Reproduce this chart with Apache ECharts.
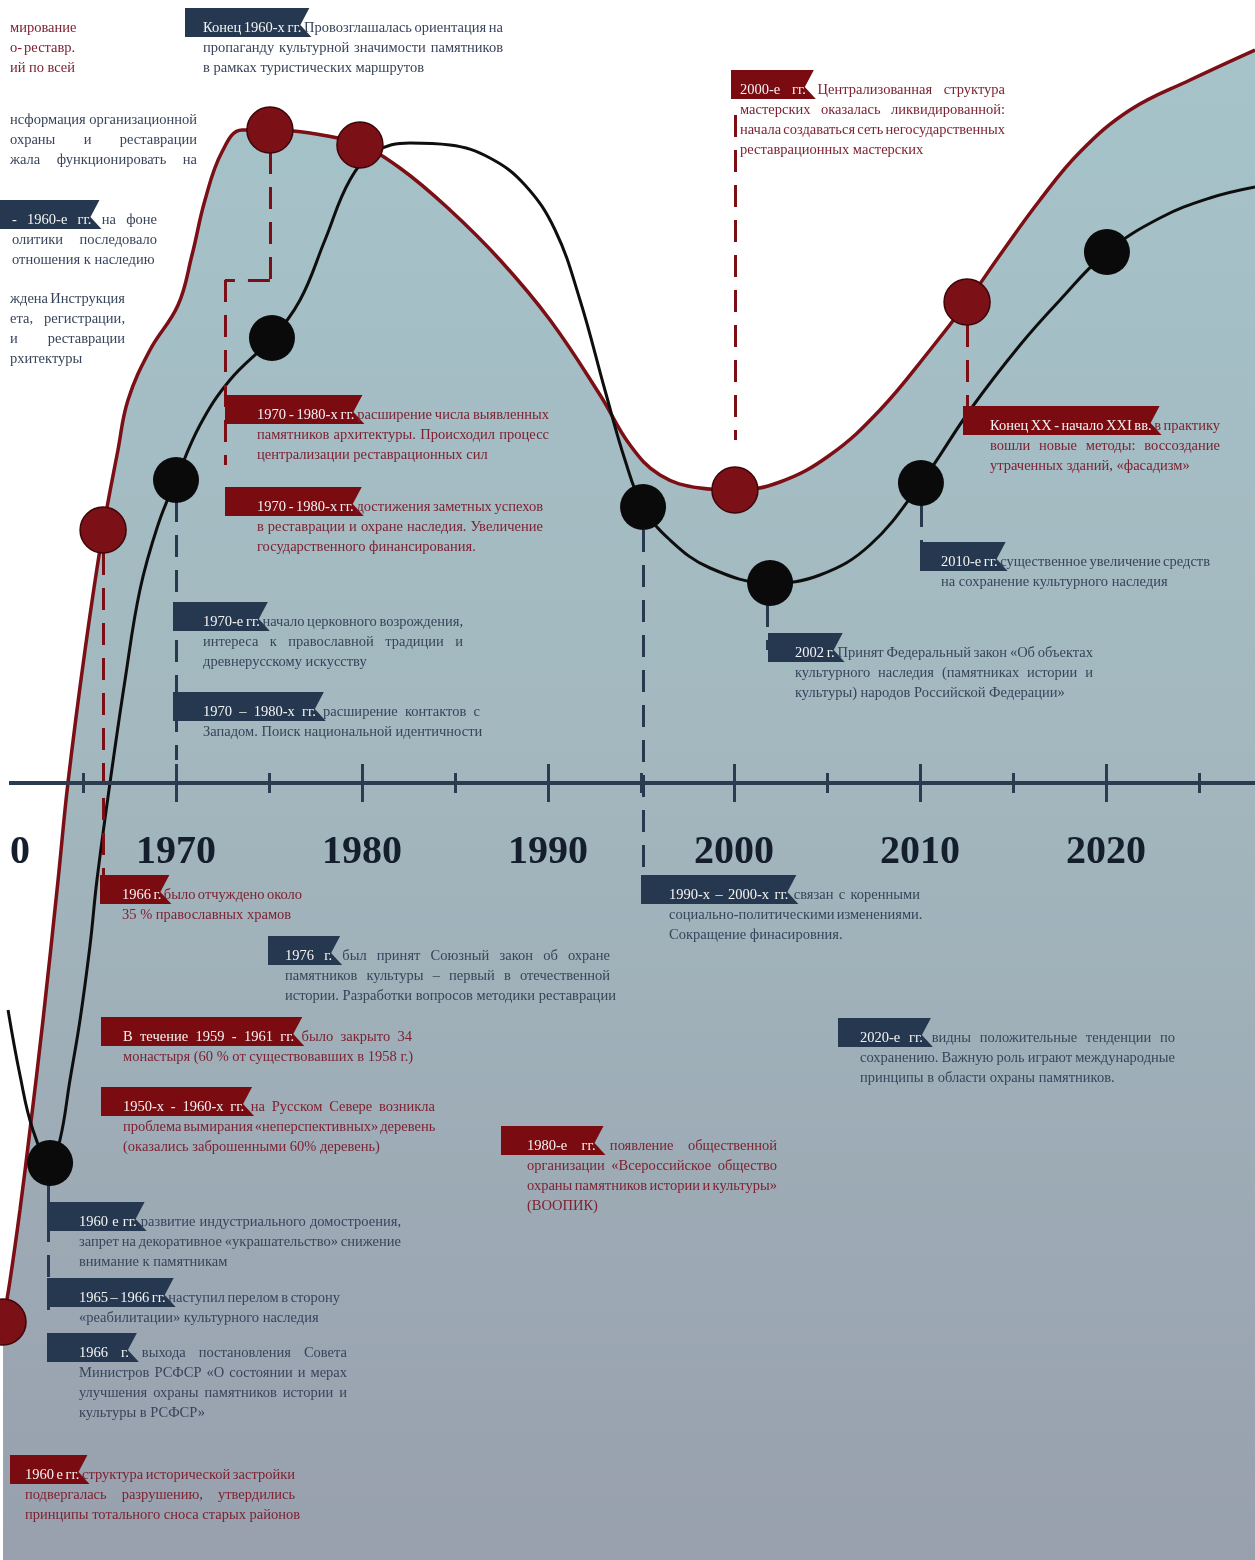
<!DOCTYPE html>
<html>
<head>
<meta charset="utf-8">
<script src="https://cdn.jsdelivr.net/npm/echarts@6/dist/echarts.min.js"></script>
<style>
html, body { margin: 0; padding: 0; background: #fff; }
#chart { width: 1255px; height: 1560px; }
</style>
</head>
<body>
<div id="chart"></div>
<script>
// кривые: год и уровень (0 = линия времени)
const redYears = [1960.70, 1961.08, 1961.61, 1962.15, 1962.85, 1963.66, 1964.19, 1965.11, 1966.08, 1966.88,
  1967.42, 1968.60, 1970.11, 1970.86, 1971.56, 1972.47, 1973.55, 1975.05, 1977.20, 1979.89,
  1982.04, 1984.73, 1987.42, 1990.11, 1992.80, 1994.41, 1996.02, 1998.17, 2000.05, 2002.47,
  2005.16, 2007.85, 2010.54, 2012.53, 2014.30, 2016.45, 2018.60, 2021.29, 2024.52, 2028.01]
const redLevels = [-53.9, -49.7, -42.7, -34.7, -23.7, -9.7, 0, 13.3, 25.3, 33.3,
  38.3, 43.3, 47.8, 52.8, 58.3, 63.1, 65.3, 65.3, 65.0, 63.8,
  61.5, 57.3, 52.3, 46.3, 38.8, 33.8, 30.8, 29.5, 29.3, 30.1,
  32.8, 37.3, 43.3, 48.1, 52.8, 58.3, 63.1, 67.3, 70.3, 73.3]

const blackYears = [1960.97, 1961.61, 1962.31, 1963.23, 1963.76, 1964.30, 1964.84, 1965.38, 1965.75, 1966.45,
  1967.26, 1968.06, 1969.03, 1970.00, 1971.29, 1972.90, 1975.16, 1976.67, 1978.01, 1979.35,
  1980.70, 1982.58, 1984.73, 1986.88, 1988.76, 1990.38, 1991.72, 1993.06, 1994.14, 1995.11,
  1996.56, 1998.71, 2001.94, 2004.62, 2007.31, 2010.05, 2012.69, 2015.38, 2017.53, 2020.05,
  2022.90, 2025.59, 2028.01]
const blackLevels = [-22.7, -29.2, -34.7, -38.0, -35.7, -29.7, -23.7, -16.2, -9.7, 0,
  10.3, 19.3, 25.8, 30.3, 35.8, 40.3, 44.5, 48.3, 54.3, 60.3,
  63.1, 64.0, 63.8, 62.5, 59.8, 55.3, 48.3, 39.3, 32.3, 27.6,
  24.3, 21.5, 20.0, 20.8, 23.8, 30.0, 37.3, 43.8, 48.3, 53.1,
  56.5, 58.5, 59.6]

// точки-события
const redDotYears = [1960.70, 1966.08, 1975.05, 1979.89, 2000.05, 2012.53]
const redDotLevels = [-53.9, 25.3, 65.3, 63.8, 29.3, 48.1]
const blackDotYears = [1963.23, 1970.00, 1975.16, 1995.11, 2001.94, 2010.05, 2020.05]
const blackDotLevels = [-38.0, 30.3, 44.5, 27.6, 20.0, 30.0, 53.1]

// пунктирные выноски: [год1, уровень1, год2, уровень2]
const redLinks = [
  [1966.08, 23.0, 1966.08, -10.7],
  [1975.05, 63.1, 1975.05, 50.3],
  [1975.05, 50.3, 1972.63, 50.3],
  [1972.63, 50.3, 1972.63, 31.8],
  [2000.05, 66.8, 2000.05, 34.3],
  [2012.53, 45.8, 2012.53, 37.3]
]
const blackLinks = [
  [1970.00, 28.3, 1970.00, 2.3],
  [1995.11, 25.3, 1995.11, -9.7],
  [1963.12, -40.2, 1963.12, -52.7],
  [2010.05, 27.8, 2010.05, 22.3],
  [2001.80, 17.8, 2001.80, 13.3]
]

// подписи событий
const noteLabels = ['', '', '- 1960-е гг.', '', 'Конец 1960-х гг.', '2000-е гг.',
  '1970 - 1980-х гг.', '1970 - 1980-х гг.', 'Конец XX - начало XXI вв.', '2010-е гг.',
  '1970-е гг.', '2002 г.', '1970 – 1980-х гг.', '1966 г.', '1990-х – 2000-х гг.', '1976 г.',
  'В течение 1959 - 1961 гг.', '2020-е гг.', '1950-х - 1960-х гг.', '1980-е гг.',
  '1960 е гг.', '1965 – 1966 гг.', '1966 г.', '1960 е гг.']
const noteTexts = [
  ['мирование', 'о- реставр.', 'ий по всей'],
  ['нсформация организационной', 'охраны и реставрации', 'жала функционировать на'],
  ['на фоне', 'олитики последовало', 'отношения к наследию'],
  ['ждена Инструкция', 'ета, регистрации,', 'и реставрации', 'рхитектуры'],
  ['Провозглашалась ориентация на', 'пропаганду культурной значимости памятников', 'в рамках туристических маршрутов'],
  ['Централизованная структура', 'мастерских оказалась ликвидированной:', 'начала создаваться сеть негосударственных', 'реставрационных мастерских'],
  ['расширение числа выявленных', 'памятников архитектуры. Происходил процесс', 'централизации реставрационных сил'],
  ['достижения заметных успехов', 'в реставрации и охране наследия. Увеличение', 'государственного финансирования.'],
  ['в практику', 'вошли новые методы: воссоздание', 'утраченных зданий, «фасадизм»'],
  ['существенное увеличение средств', 'на сохранение культурного наследия'],
  ['начало церковного возрождения,', 'интереса к православной традиции и', 'древнерусскому искусству'],
  ['Принят Федеральный закон «Об объектах', 'культурного наследия (памятниках истории и', 'культуры) народов Российской Федерации»'],
  ['расширение контактов с', 'Западом. Поиск национальной идентичности'],
  ['было отчуждено около', '35 % православных храмов'],
  ['связан с коренными', 'социально-политическими изменениями.', 'Сокращение финасировния.'],
  ['был принят Союзный закон об охране', 'памятников культуры – первый в отечественной', 'истории. Разработки вопросов методики реставрации'],
  ['было закрыто 34', 'монастыря (60 % от существовавших в 1958 г.)'],
  ['видны положительные тенденции по', 'сохранению. Важную роль играют международные', 'принципы в области охраны памятников.'],
  ['на Русском Севере возникла', 'проблема вымирания «неперспективных» деревень', '(оказались заброшенными 60% деревень)'],
  ['появление общественной', 'организации «Всероссийское общество', 'охраны памятников истории и культуры»', '(ВООПИК)'],
  ['развитие индустриального домостроения,', 'запрет на декоративное «украшательство» снижение', 'внимание к памятникам'],
  ['наступил перелом в сторону', '«реабилитации» культурного наследия'],
  ['выхода постановления Совета', 'Министров РСФСР «О состоянии и мерах', 'улучшения охраны памятников истории и', 'культуры в РСФСР»'],
  ['структура исторической застройки', 'подвергалась разрушению, утвердились', 'принципы тотального сноса старых районов']
]
const noteSides = ['red', 'navy', 'navy', 'navy', 'navy', 'red', 'red', 'red', 'red', 'navy',
  'navy', 'navy', 'navy', 'red', 'navy', 'navy', 'red', 'navy', 'red', 'red',
  'navy', 'navy', 'navy', 'red']

// расположение блоков: [флажок x, текст x, первая строка y, правый край, выравнивать последнюю]
const noteBoxes = [
  [null, 10, 28, 75, true], [null, 10, 120, 197, true], [-10, 12, 220, 157, false], [null, 10, 299, 125, false],
  [185, 203, 28, 503, false], [731, 740, 90, 1005, false], [225, 257, 415, 549, false], [225, 257, 507, 543, false],
  [963, 990, 426, 1220, false], [920, 941, 562, 1210, false], [173, 203, 622, 463, false], [768, 795, 653, 1093, false],
  [173, 203, 712, 480, false], [100, 122, 895, 302, false], [641, 669, 895, 920, false], [268, 285, 956, 610, false],
  [101, 123, 1037, 412, false], [838, 860, 1038, 1175, false], [101, 123, 1107, 435, false], [501, 527, 1146, 777, false],
  [47, 79, 1222, 401, false], [47, 79, 1298, 340, false], [47, 79, 1353, 347, false], [10, 25, 1475, 295, false]
]

const FONT = 'Liberation Serif'
const FS = 14.5
const LH = 20
const RED = '#7b0f15'
const NAVY = '#27384f'
const AXIS = '#2b3c51'
const TEXT_COLORS = { red: '#7e2131', navy: '#37445a' }
const FLAG_COLORS = { red: '#7a0b11', navy: '#26384f' }

const ctx = document.createElement('canvas').getContext('2d')
ctx.font = FS + 'px "' + FONT + '"'
const measure = s => ctx.measureText(s).width
const spaceW = measure(' ')

const zip = (xs, ys) => xs.map((x, i) => [x, ys[i]])

// блок текста с флажком и выравниванием по ширине
const buildNote = (i) => {
  const [flagX, textX, y, right, justifyLast] = noteBoxes[i]
  const lines = noteTexts[i]
  const labelWords = noteLabels[i] ? noteLabels[i].split(' ') : []
  const side = noteSides[i]
  const els = []
  let labelEnd = textX
  lines.forEach((line, li) => {
    let words = line.split(' ')
    let nLabel = 0
    if (li === 0 && labelWords.length) {
      words = labelWords.concat(words)
      nLabel = labelWords.length
    }
    const widths = words.map(measure)
    const total = widths.reduce((a, b) => a + b, 0)
    const isLast = li === lines.length - 1 && !justifyLast
    let gap = spaceW
    if (!isLast && words.length > 1) gap = Math.max(2, (right - textX - total) / (words.length - 1))
    let x = textX
    const cy = y + li * LH
    words.forEach((word, wi) => {
      els.push({
        type: 'text', x: x, y: cy, z: 110, silent: true,
        style: {
          text: word, fill: wi < nLabel ? '#f4f4f4' : TEXT_COLORS[side],
          fontSize: FS, fontFamily: FONT, align: 'left', verticalAlign: 'middle'
        }
      })
      if (wi === nLabel - 1) labelEnd = x + widths[wi]
      x += widths[wi] + gap
    })
  })
  if (labelWords.length) {
    const top = y - 20, bot = y + 9, R = labelEnd + 8
    els.unshift({
      type: 'polygon', z: 105, silent: true,
      shape: { points: [[flagX, top], [R, top], [R - 9, top + 17], [R + 2, bot], [flagX, bot]] },
      style: { fill: FLAG_COLORS[side] }
    })
  }
  return els
}

const graphics = []
noteTexts.forEach((_, i) => graphics.push(...buildNote(i)))
// белая кромка исходного листа слева у оси
graphics.push({ type: 'rect', z: 120, silent: true, shape: { x: 0, y: 770, width: 9, height: 110 }, style: { fill: '#ffffff' } })

const dashLine = (links, color) => ({
  silent: true,
  symbol: ['none', 'none'],
  label: { show: false },
  lineStyle: { color: color, width: 3, type: [22, 13] },
  data: links.map(l => [{ coord: [l[0], l[1]] }, { coord: [l[2], l[3]] }])
})

const chart = echarts.init(document.getElementById('chart'), null, { renderer: 'canvas' })

const tickStyle = { color: AXIS, width: 3 }
const AXIS_Y = 783 // линия времени, px от верха

chart.setOption({
  animation: false,
  backgroundColor: '#ffffff',
  grid: [
    { left: -10, right: -37, top: 0, bottom: 0, outerBoundsMode: 'none', containLabel: false },
    { left: -10, right: -37, top: 0, bottom: 1560 - AXIS_Y, outerBoundsMode: 'none', containLabel: false },
    { left: -10, right: -37, top: AXIS_Y, bottom: 0, outerBoundsMode: 'none', containLabel: false }
  ],
  xAxis: [
    { type: 'value', gridIndex: 0, min: 1960, max: 2030, show: false },
    {
      type: 'value', gridIndex: 1, min: 1960, max: 2030, interval: 10, position: 'bottom', z: 10,
      axisLine: { show: true, onZero: false, lineStyle: { color: AXIS, width: 4 } },
      axisTick: { show: true, inside: false, length: 19, lineStyle: tickStyle },
      minorTick: { show: true, splitNumber: 2, length: 10, lineStyle: tickStyle },
      splitLine: { show: false },
      axisLabel: {
        margin: 50, fontSize: 40, fontWeight: 'bold', fontFamily: FONT, color: '#151e2c',
        showMaxLabel: false,
        formatter: v => String(v)
      }
    },
    {
      type: 'value', gridIndex: 2, min: 1960, max: 2030, interval: 10, position: 'top', z: 10,
      axisLine: { show: false, onZero: false },
      axisTick: { show: true, inside: false, length: 19, lineStyle: tickStyle },
      minorTick: { show: true, splitNumber: 2, length: 10, lineStyle: tickStyle },
      splitLine: { show: false },
      axisLabel: { show: false }
    }
  ],
  yAxis: [
    { type: 'value', gridIndex: 0, min: -77.7, max: 78.3, show: false },
    { type: 'value', gridIndex: 1, show: false },
    { type: 'value', gridIndex: 2, show: false }
  ],
  series: [
    {
      type: 'line', z: 2, smooth: 0.4, showSymbol: false, silent: true,
      data: zip(redYears, redLevels),
      lineStyle: { color: RED, width: 3.5 },
      areaStyle: {
        origin: 'start', opacity: 1,
        color: new echarts.graphic.LinearGradient(0, 0, 0, 1, [
          { offset: 0, color: '#a6c3ca' },
          { offset: 0.45, color: '#a3b8bf' },
          { offset: 1, color: '#98a0ad' }
        ])
      },
      markLine: dashLine(redLinks, RED)
    },
    {
      type: 'line', z: 3, smooth: 0.4, showSymbol: false, silent: true,
      data: zip(blackYears, blackLevels),
      lineStyle: { color: '#0e0e0e', width: 3 },
      markLine: dashLine(blackLinks, NAVY)
    },
    {
      type: 'scatter', z: 6, silent: true, symbolSize: 46,
      data: zip(redDotYears, redDotLevels),
      itemStyle: { color: '#7b1016', borderColor: '#3d0508', borderWidth: 1.5, opacity: 1 }
    },
    {
      type: 'scatter', z: 6, silent: true, symbolSize: 46,
      data: zip(blackDotYears, blackDotLevels),
      itemStyle: { color: '#0a0a0a', opacity: 1 }
    }
  ],
  graphic: graphics
})
</script>
</body>
</html>
